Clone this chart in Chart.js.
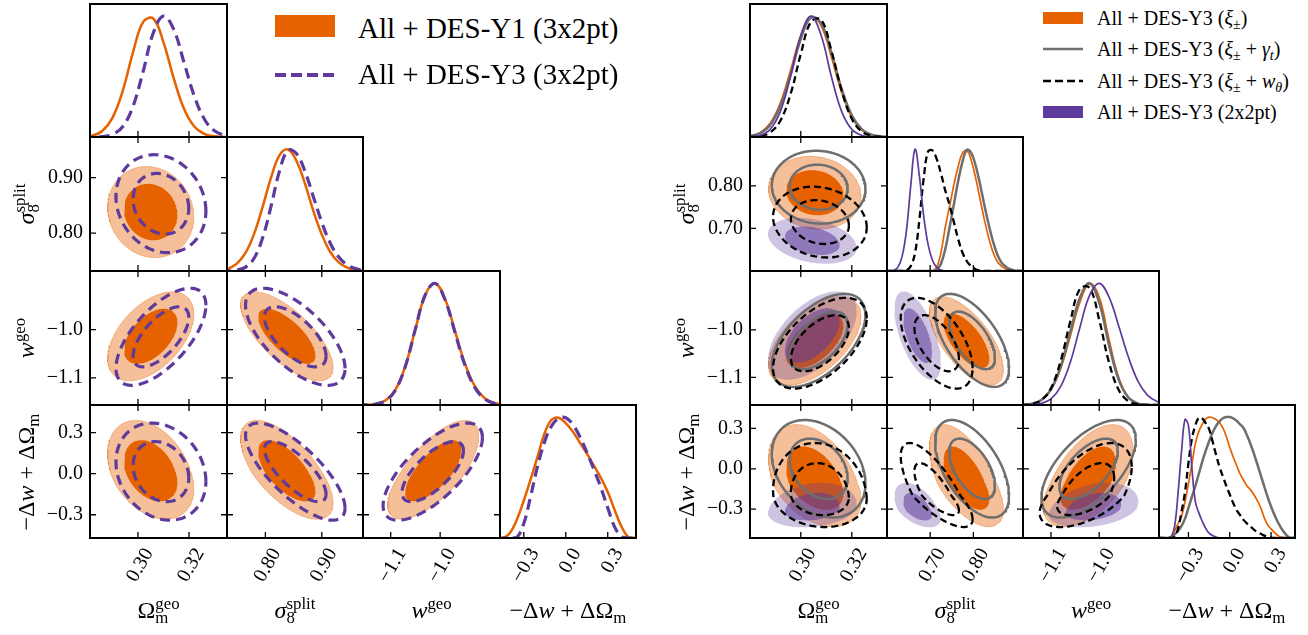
<!DOCTYPE html>
<html>
<head>
<meta charset="utf-8">
<script src="https://cdn.jsdelivr.net/npm/chart.js@4.4.1/dist/chart.umd.min.js"></script>
<style>
  body { margin: 0; width: 1308px; height: 635px; background: #fff; position: relative; overflow: hidden; font-family: "Liberation Serif", serif; }
  canvas { position: absolute; }
  .t { position: absolute; white-space: nowrap; line-height: 1; color: #000; }
  .up { position: relative; top: -0.55em; font-size: 0.7em; }
  .dn { position: absolute; left: 0; top: 0.95em; }
  .lo { position: relative; top: 0.3em; font-size: 0.7em; }
  .box { position: absolute; }
</style>
</head>
<body>
<script>
// axis limits and ticks, order: Omega_m, sigma_8, w, -dw+dOm
const leftLimits = [[0.2812, 0.3349], [0.732, 0.973], [-1.156, -0.879], [-0.47, 0.502]];
const rightLimits = [[0.2801, 0.3338], [0.600, 0.915], [-1.158, -0.876], [-0.514, 0.474]];
const leftTicks = [[0.30, 0.32], [0.80, 0.90], [-1.1, -1.0], [-0.3, 0.0, 0.3]];
const rightTicks = [[0.30, 0.32], [0.70, 0.80], [-1.1, -1.0], [-0.3, 0.0, 0.3]];
const tickDecimals = [2, 2, 1, 1];

// 1D posteriors, left figure (Y1 orange, Y3 purple dashed)
const L_omGrid = [0.278, 0.282, 0.286, 0.290, 0.294, 0.298, 0.302, 0.306, 0.310, 0.314, 0.318, 0.322, 0.326, 0.330, 0.334, 0.338];
const L_y1Om = [0.002, 0.011, 0.05, 0.158, 0.38, 0.695, 0.95, 0.98, 0.783, 0.487, 0.236, 0.089, 0.026, 0.006, 0.001, 0];
const L_y3Om = [0, 0.0005, 0.004, 0.021, 0.085, 0.25, 0.54, 0.86, 1.0, 0.89, 0.62, 0.344, 0.149, 0.051, 0.014, 0.003];
const L_s8Grid = [0.720, 0.735, 0.750, 0.765, 0.780, 0.795, 0.810, 0.825, 0.840, 0.855, 0.870, 0.885, 0.900, 0.915, 0.930, 0.945, 0.960, 0.975, 0.990];
const L_y1S8 = [0.007, 0.022, 0.063, 0.15, 0.305, 0.525, 0.766, 0.949, 0.997, 0.905, 0.72, 0.494, 0.30, 0.156, 0.071, 0.028, 0.01, 0.003, 0];
const L_y3S8 = [0, 0.001, 0.008, 0.032, 0.105, 0.27, 0.53, 0.82, 0.99, 0.964, 0.82, 0.61, 0.40, 0.228, 0.115, 0.051, 0.02, 0.0066, 0.002];
const L_wGrid = [-1.17, -1.15, -1.13, -1.11, -1.09, -1.07, -1.05, -1.03, -1.01, -0.99, -0.97, -0.95, -0.93, -0.91, -0.89, -0.87];
const L_y1W = [0, 0.002, 0.009, 0.039, 0.128, 0.325, 0.624, 0.904, 0.998, 0.869, 0.607, 0.34, 0.155, 0.056, 0.017, 0.004];
const L_y3W = [0, 0.002, 0.008, 0.036, 0.125, 0.322, 0.625, 0.905, 0.998, 0.862, 0.595, 0.328, 0.145, 0.05, 0.013, 0.003];
const L_dGrid = [-0.50, -0.45, -0.40, -0.35, -0.30, -0.25, -0.20, -0.15, -0.10, -0.05, 0.00, 0.05, 0.10, 0.15, 0.20, 0.25, 0.30, 0.35, 0.40, 0.45, 0.50];
const L_y1D = [0, 0, 0.04, 0.15, 0.31, 0.49, 0.68, 0.87, 0.98, 0.995, 0.95, 0.88, 0.79, 0.70, 0.60, 0.50, 0.38, 0.23, 0.09, 0.005, 0];
const L_y3D = [0, 0, 0, 0.005, 0.12, 0.35, 0.60, 0.80, 0.93, 0.99, 0.995, 0.94, 0.84, 0.71, 0.57, 0.42, 0.25, 0.09, 0.01, 0, 0];

// 1D posteriors, right figure (xi orange, xi+gt grey, xi+wt black dashed, 2x2pt purple)
const R_omGrid = [0.276, 0.280, 0.284, 0.288, 0.292, 0.296, 0.300, 0.304, 0.308, 0.312, 0.316, 0.320, 0.324, 0.328, 0.332, 0.336];
const R_xiOm = [0.001, 0.0085, 0.035, 0.113, 0.283, 0.552, 0.84, 0.996, 0.92, 0.66, 0.37, 0.161, 0.055, 0.014, 0.003, 0];
const R_ggOm = [0.001, 0.007, 0.03, 0.099, 0.256, 0.516, 0.81, 0.989, 0.94, 0.697, 0.40, 0.18, 0.063, 0.017, 0.004, 0.001];
const R_wtOm = [0, 0.001, 0.007, 0.037, 0.135, 0.355, 0.685, 0.953, 0.969, 0.715, 0.386, 0.15, 0.043, 0.009, 0.001, 0];
const R_ppOm = [0, 0.002, 0.013, 0.063, 0.212, 0.50, 0.84, 1.0, 0.84, 0.50, 0.212, 0.063, 0.013, 0.002, 0, 0];
const R_s8Grid = [0.595, 0.605, 0.615, 0.625, 0.635, 0.645, 0.655, 0.665, 0.675, 0.685, 0.695, 0.705, 0.715, 0.725, 0.735, 0.745, 0.755,
  0.765, 0.775, 0.785, 0.795, 0.805, 0.815, 0.825, 0.835, 0.845, 0.855, 0.865, 0.875, 0.885, 0.895, 0.905, 0.915, 0.925];
const R_xiS8 = [0, 0, 0, 0, 0, 0, 0, 0, 0, 0, 0, 0, 0.03, 0.15, 0.36, 0.53, 0.71, 0.86, 0.97, 0.99, 0.91, 0.77, 0.60, 0.43, 0.28, 0.16, 0.08, 0.04, 0.015, 0.005, 0, 0, 0, 0];
const R_ggS8 = [0, 0, 0, 0, 0, 0, 0, 0, 0, 0, 0, 0, 0.01, 0.06, 0.18, 0.36, 0.55, 0.74, 0.90, 0.995, 0.97, 0.87, 0.72, 0.55, 0.39, 0.25, 0.14, 0.07, 0.035, 0.015, 0.005, 0, 0, 0];
const R_wtS8 = [0, 0, 0, 0, 0, 0.005, 0.04, 0.15, 0.42, 0.76, 0.98, 0.99, 0.92, 0.80, 0.66, 0.54, 0.40, 0.26, 0.15, 0.08, 0.04, 0.015, 0.003, 0, 0, 0, 0, 0, 0, 0, 0, 0, 0, 0];
const R_ppS8 = [0, 0, 0.005, 0.03, 0.12, 0.33, 0.70, 1.0, 0.78, 0.45, 0.22, 0.09, 0.03, 0.008, 0, 0, 0, 0, 0, 0, 0, 0, 0, 0, 0, 0, 0, 0, 0, 0, 0, 0, 0, 0];
const R_wGrid = [-1.16, -1.14, -1.12, -1.10, -1.08, -1.06, -1.04, -1.02, -1.00, -0.98, -0.96, -0.94, -0.92, -0.90, -0.88, -0.86];
const R_xiW = [0.002, 0.010, 0.04, 0.123, 0.296, 0.563, 0.843, 0.995, 0.887, 0.546, 0.232, 0.067, 0.013, 0.002, 0, 0];
const R_ggW = [0.002, 0.01, 0.041, 0.128, 0.315, 0.60, 0.88, 1.0, 0.84, 0.50, 0.212, 0.063, 0.013, 0.002, 0, 0];
const R_wtW = [0.001, 0.008, 0.039, 0.138, 0.36, 0.685, 0.953, 0.96, 0.70, 0.354, 0.127, 0.032, 0.006, 0, 0, 0];
const R_ppW = [0, 0.0026, 0.013, 0.05, 0.15, 0.35, 0.637, 0.90, 0.999, 0.89, 0.655, 0.40, 0.198, 0.081, 0.028, 0.0077];
const R_dGrid = [-0.525, -0.5, -0.475, -0.45, -0.425, -0.4, -0.375, -0.35, -0.325, -0.3, -0.275, -0.25, -0.225, -0.2, -0.175, -0.15, -0.125,
  -0.1, -0.075, -0.05, -0.025, 0, 0.025, 0.05, 0.075, 0.1, 0.125, 0.15, 0.175, 0.2, 0.225, 0.25, 0.275, 0.3, 0.325, 0.35, 0.375, 0.4, 0.425, 0.45, 0.475];
const R_xiD = [0, 0, 0, 0, 0.01, 0.06, 0.12, 0.18, 0.30, 0.45, 0.61, 0.78, 0.88, 0.94, 0.985, 1.0, 0.995, 0.98, 0.955, 0.91, 0.84,
  0.75, 0.67, 0.60, 0.53, 0.48, 0.43, 0.40, 0.36, 0.31, 0.25, 0.17, 0.11, 0.075, 0.045, 0.02, 0.005, 0, 0, 0, 0];
const R_ggD = [0, 0, 0, 0, 0.01, 0.03, 0.06, 0.10, 0.16, 0.25, 0.34, 0.43, 0.53, 0.63, 0.72, 0.80, 0.87, 0.925, 0.965, 0.99, 1.0,
  1.0, 0.99, 0.97, 0.94, 0.91, 0.85, 0.78, 0.70, 0.61, 0.52, 0.43, 0.34, 0.26, 0.19, 0.13, 0.08, 0.04, 0.01, 0, 0];
const R_wtD = [0, 0, 0, 0, 0, 0.01, 0.08, 0.22, 0.38, 0.62, 0.82, 0.93, 0.995, 0.99, 0.95, 0.90, 0.80, 0.69, 0.59, 0.51, 0.43,
  0.36, 0.29, 0.23, 0.19, 0.15, 0.12, 0.095, 0.07, 0.05, 0.035, 0.02, 0.01, 0.003, 0, 0, 0, 0, 0, 0, 0];
const R_ppD = [0, 0, 0, 0, 0.01, 0.1, 0.38, 0.72, 0.98, 0.93, 0.58, 0.30, 0.21, 0.14, 0.08, 0.04, 0.02, 0.008, 0.002, 0, 0,
  0, 0, 0, 0, 0, 0, 0, 0, 0, 0, 0, 0, 0, 0, 0, 0, 0, 0, 0, 0];

// 2D contour summaries: centre, lower/upper widths, correlations (Om-s8, Om-w, Om-d, s8-w, s8-d, w-d)
const y1Mean = [0.305, 0.838, -1.014, 0.01];
const y1SigLo = [0.0069, 0.0335, 0.0376, 0.14];
const y1SigHi = [0.0069, 0.0335, 0.0376, 0.155];
const y1Rho = [-0.1, 0.5, -0.35, -0.7, -0.65, 0.7];
const y3Mean = [0.309, 0.853, -1.015, 0.015];
const y3Sig = [0.0072, 0.036, 0.041, 0.145];
const y3Rho = [-0.15, 0.65, -0.2, -0.65, -0.75, 0.7];

const xiMean = [0.3055, 0.784, -1.023, -0.10];
const xiSigLo = [0.0074, 0.035, 0.038, 0.135];
const xiSigHi = [0.0074, 0.035, 0.038, 0.175];
const xiRho = [-0.1, 0.55, -0.4, -0.65, -0.6, 0.55];
const ggMean = [0.307, 0.797, -1.022, 0.0];
const ggSig = [0.0075, 0.035, 0.040, 0.148];
const ggRho = [-0.05, 0.55, -0.3, -0.6, -0.55, 0.6];
const wtMean = [0.3075, 0.715, -1.028, -0.20];
const wtSigLo = [0.0075, 0.034, 0.039, 0.095];
const wtSigHi = [0.0075, 0.034, 0.039, 0.16];
const wtRho = [-0.15, 0.55, -0.1, -0.55, -0.75, 0.55];
const ppMean = [0.3045, 0.671, -1.012, -0.30];
const ppSigLo = [0.0071, 0.022, 0.038, 0.055];
const ppSigHi = [0.0071, 0.022, 0.038, 0.08];
const ppRho = [-0.3, 0.55, 0.2, -0.6, -0.5, 0.3];

const levels = [2.448, 1.515]; // 95% and 68% in 2D

const ORANGE = '#E66100', ORANGE_L = 'rgb(245,192,153)', PURPLE = '#5D3A9B', GREY = '#6E6E6E';
const rows = [4, 137, 271, 405, 538];
const leftCols = [90, 227, 363, 500, 636];
const rightCols = [750, 887, 1023, 1159, 1295];
const pairIdx = [[-1, 0, 1, 2], [0, -1, 3, 4], [1, 3, -1, 5], [2, 4, 5, -1]];

Chart.defaults.font.family = '"Liberation Serif", serif';

function fmt(v, d) { return (v < -1e-9 ? '\u2212' : '') + Math.abs(v).toFixed(d); }

function frame(xt, yt, both) {
  return {
    id: 'frame',
    afterDatasetsDraw(chart) {
      const {ctx, chartArea: a} = chart;
      const sx = chart.scales.x, sy = chart.scales.y;
      ctx.save();
      ctx.strokeStyle = '#000';
      ctx.lineWidth = 1.3;
      ctx.beginPath();
      xt.forEach(v => {
        const p = sx.getPixelForValue(v);
        ctx.moveTo(p, a.bottom); ctx.lineTo(p, a.bottom - 6);
        if (both) { ctx.moveTo(p, a.top); ctx.lineTo(p, a.top + 6); }
      });
      (yt || []).forEach(v => {
        const p = sy.getPixelForValue(v);
        ctx.moveTo(a.left, p); ctx.lineTo(a.left + 6, p);
        ctx.moveTo(a.right, p); ctx.lineTo(a.right - 6, p);
      });
      ctx.stroke();
      ctx.lineWidth = 2;
      ctx.strokeRect(a.left, a.top, a.right - a.left, a.bottom - a.top);
      ctx.restore();
    }
  };
}

function axis(lim, ticks, dec, show, isX, size) {
  return {
    type: 'linear', min: lim[0], max: lim[1], display: show,
    grid: {display: false, drawTicks: false},
    border: {display: false},
    afterBuildTicks: s => { s.ticks = ticks.map(v => ({value: v})); },
    afterFit: s => {
      if (!show) return;
      if (isX) s.height = size; else s.width = size;
      s.paddingLeft = 0; s.paddingRight = 0; s.paddingTop = 0; s.paddingBottom = 0;
    },
    ticks: {
      autoSkip: false, color: '#000', padding: isX ? 6 : 7,
      labelOffset: isX ? 11 : 0,
      font: {size: 20},
      minRotation: isX ? 60 : 0, maxRotation: isX ? 60 : 0,
      callback: v => fmt(v, dec)
    }
  };
}

function curve(xs, ys, color, width, dash) {
  return {
    data: xs.map((x, i) => ({x: x, y: ys[i]})),
    borderColor: color, borderWidth: width, borderDash: dash || [],
    pointRadius: 0, tension: 0.4, fill: false, clip: 0
  };
}

function ring(s, i, j, r) {
  const rho = s.rho[pairIdx[i][j]], q = Math.sqrt(1 - rho * rho), pts = [];
  for (let k = 0; k <= 120; k++) {
    const t = 2 * Math.PI * k / 120;
    const a = r * Math.cos(t), b = r * (rho * Math.cos(t) + q * Math.sin(t));
    pts.push({x: s.mean[i] + a * (a < 0 ? s.lo[i] : s.hi[i]), y: s.mean[j] + b * (b < 0 ? s.lo[j] : s.hi[j])});
  }
  return pts;
}

function contours(s, i, j) {
  return levels.map((r, k) => {
    const d = {data: ring(s, i, j, r), pointRadius: 0, tension: 0, clip: 0};
    if (s.fills) {
      Object.assign(d, {fill: 'shape', backgroundColor: s.fills[k], borderColor: s.edges[k], borderWidth: s.edges[k] ? 1 : 0});
    } else {
      Object.assign(d, {fill: false, borderColor: s.color, borderWidth: s.width, borderDash: s.dash || []});
    }
    return d;
  });
}

function panel(cols, r, c, limits, ticks, datasets, diag) {
  const L = cols[c], R = cols[c + 1], T = rows[r], B = rows[r + 1];
  const yAxis = c === 0 && r > 0, xAxis = r === 3;
  const padL = yAxis ? 84 : (xAxis ? 34 : 3), padR = 3, padT = 3, padB = xAxis ? 92 : 3;
  const w = R - L + padL + padR, h = B - T + padT + padB;
  const cv = document.createElement('canvas');
  cv.width = w; cv.height = h;
  cv.style.left = (L - padL) + 'px'; cv.style.top = (T - padT) + 'px';
  cv.style.width = w + 'px'; cv.style.height = h + 'px';
  document.body.appendChild(cv);
  datasets.forEach((d, k) => { d.order = -k; });
  new Chart(cv, {
    type: 'line',
    data: {datasets: datasets},
    options: {
      responsive: false, animation: false, devicePixelRatio: 1, events: [],
      layout: {padding: {left: yAxis ? 0 : padL, right: padR, top: padT, bottom: xAxis ? 0 : padB}},
      plugins: {legend: {display: false}, tooltip: {enabled: false}},
      scales: {
        x: axis(limits[c], ticks[c], tickDecimals[c], xAxis, true, padB),
        y: diag ? {type: 'linear', min: 0, max: 1.1, display: false}
                : axis(limits[r], ticks[r], tickDecimals[r], yAxis, false, padL)
      }
    },
    plugins: [frame(ticks[c], diag ? null : ticks[r], !diag)]
  });
}

function triangle(cols, limits, ticks, diagCurves, series) {
  for (let r = 0; r < 4; r++) {
    for (let c = 0; c <= r; c++) {
      if (r === c) {
        panel(cols, r, c, limits, ticks, diagCurves[r](), true);
      } else {
        let ds = [];
        series.forEach(s => { ds = ds.concat(contours(s, c, r)); });
        panel(cols, r, c, limits, ticks, ds, false);
      }
    }
  }
}

// left figure
const leftDiag = [
  () => [curve(L_omGrid, L_y1Om, ORANGE, 2.5), curve(L_omGrid, L_y3Om, PURPLE, 3.2, [11, 6])],
  () => [curve(L_s8Grid, L_y1S8, ORANGE, 2.5), curve(L_s8Grid, L_y3S8, PURPLE, 3.2, [11, 6])],
  () => [curve(L_wGrid, L_y1W, ORANGE, 2.5), curve(L_wGrid, L_y3W, PURPLE, 3.2, [11, 6])],
  () => [curve(L_dGrid, L_y1D, ORANGE, 2.5), curve(L_dGrid, L_y3D, PURPLE, 3.2, [11, 6])]
];
const leftSeries = [
  {mean: y1Mean, lo: y1SigLo, hi: y1SigHi, rho: y1Rho, fills: [ORANGE_L, ORANGE], edges: ['rgba(230,97,0,0.35)', null]},
  {mean: y3Mean, lo: y3Sig, hi: y3Sig, rho: y3Rho, color: PURPLE, width: 3.2, dash: [10, 6]}
];
triangle(leftCols, leftLimits, leftTicks, leftDiag, leftSeries);

// right figure
const rightDiag = [
  () => [curve(R_omGrid, R_xiOm, ORANGE, 1.7), curve(R_omGrid, R_ggOm, GREY, 2.5), curve(R_omGrid, R_wtOm, '#000', 2.3, [7, 4]), curve(R_omGrid, R_ppOm, PURPLE, 1.7)],
  () => [curve(R_s8Grid, R_xiS8, ORANGE, 1.7), curve(R_s8Grid, R_ggS8, GREY, 2.5), curve(R_s8Grid, R_wtS8, '#000', 2.3, [7, 4]), curve(R_s8Grid, R_ppS8, PURPLE, 1.7)],
  () => [curve(R_wGrid, R_xiW, ORANGE, 1.7), curve(R_wGrid, R_ggW, GREY, 2.5), curve(R_wGrid, R_wtW, '#000', 2.3, [7, 4]), curve(R_wGrid, R_ppW, PURPLE, 1.7)],
  () => [curve(R_dGrid, R_xiD, ORANGE, 1.7), curve(R_dGrid, R_ggD, GREY, 2.5), curve(R_dGrid, R_wtD, '#000', 2.3, [7, 4]), curve(R_dGrid, R_ppD, PURPLE, 1.7)]
];
const rightSeries = [
  {mean: xiMean, lo: xiSigLo, hi: xiSigHi, rho: xiRho, fills: [ORANGE_L, ORANGE], edges: ['rgba(230,97,0,0.35)', null]},
  {mean: ppMean, lo: ppSigLo, hi: ppSigHi, rho: ppRho, fills: ['rgba(93,58,155,0.3)', 'rgba(93,58,155,0.55)'], edges: [null, null]},
  {mean: ggMean, lo: ggSig, hi: ggSig, rho: ggRho, color: GREY, width: 2.5},
  {mean: wtMean, lo: wtSigLo, hi: wtSigHi, rho: wtRho, color: '#000', width: 2.3, dash: [7, 4]}
];
triangle(rightCols, rightLimits, rightTicks, rightDiag, rightSeries);

// axis titles and legends
function text(html, x, y, size, center) {
  const d = document.createElement('div');
  d.className = 't';
  d.style.fontSize = size + 'px';
  d.style.left = x + 'px';
  d.style.top = y + 'px';
  if (center) d.style.transform = 'translateX(-50%)';
  d.innerHTML = html;
  document.body.appendChild(d);
  return d;
}
function vtext(html, cx, cy, size) {
  const d = text(html, cx, cy, size, false);
  d.style.transform = 'translate(-50%,-50%) rotate(-90deg)';
  return d;
}
const titles = [
  '\u03a9<span class="up">geo<span class="dn">m</span></span>',
  '<i>\u03c3</i><span class="up">split<span class="dn">8</span></span>',
  '<i>w</i><span class="up">geo</span>',
  '\u2212\u0394<i>w</i> + \u0394\u03a9<span class="lo">m</span>'
];
[leftCols, rightCols].forEach(cols => {
  for (let c = 0; c < 4; c++) text(titles[c], (cols[c] + cols[c + 1]) / 2, 598, 24, true);
  for (let r = 1; r < 4; r++) vtext(titles[r], cols[0] - 64, (rows[r] + rows[r + 1]) / 2, 24);
});

function box(x, y, w, h, color) {
  const d = document.createElement('div');
  d.className = 'box';
  Object.assign(d.style, {left: x + 'px', top: y + 'px', width: w + 'px', height: h + 'px', background: color});
  document.body.appendChild(d);
}
function dashLine(x, y, w, color, width, dash) {
  const ns = 'http://www.w3.org/2000/svg';
  const s = document.createElementNS(ns, 'svg');
  s.setAttribute('width', w); s.setAttribute('height', 10);
  Object.assign(s.style, {position: 'absolute', left: x + 'px', top: (y - 5) + 'px'});
  const l = document.createElementNS(ns, 'line');
  l.setAttribute('x1', 0); l.setAttribute('y1', 5); l.setAttribute('x2', w); l.setAttribute('y2', 5);
  l.setAttribute('stroke', color); l.setAttribute('stroke-width', width);
  if (dash) l.setAttribute('stroke-dasharray', dash);
  s.appendChild(l);
  document.body.appendChild(s);
}

box(275, 15, 60, 22, ORANGE);
text('All + DES-Y1 (3x2pt)', 358, 14, 29);
dashLine(275, 75, 60, PURPLE, 4, '11 5');
text('All + DES-Y3 (3x2pt)', 358, 60, 29);

const xi = '<i>\u03be</i><span class="lo">\u00b1</span>';
box(1043, 12, 40, 12, ORANGE);
text('All + DES-Y3 (' + xi + ')', 1097, 8, 20);
dashLine(1043, 49, 40, GREY, 2.5);
text('All + DES-Y3 (' + xi + ' + <i>\u03b3<span class="lo">t</span></i>)', 1097, 39, 20);
dashLine(1043, 81, 40, '#000', 2.5, '8 4');
text('All + DES-Y3 (' + xi + ' + <i>w<span class="lo">\u03b8</span></i>)', 1097, 71, 20);
box(1043, 106, 40, 12, PURPLE);
text('All + DES-Y3 (2x2pt)', 1097, 102, 20);
</script>
</body>
</html>
